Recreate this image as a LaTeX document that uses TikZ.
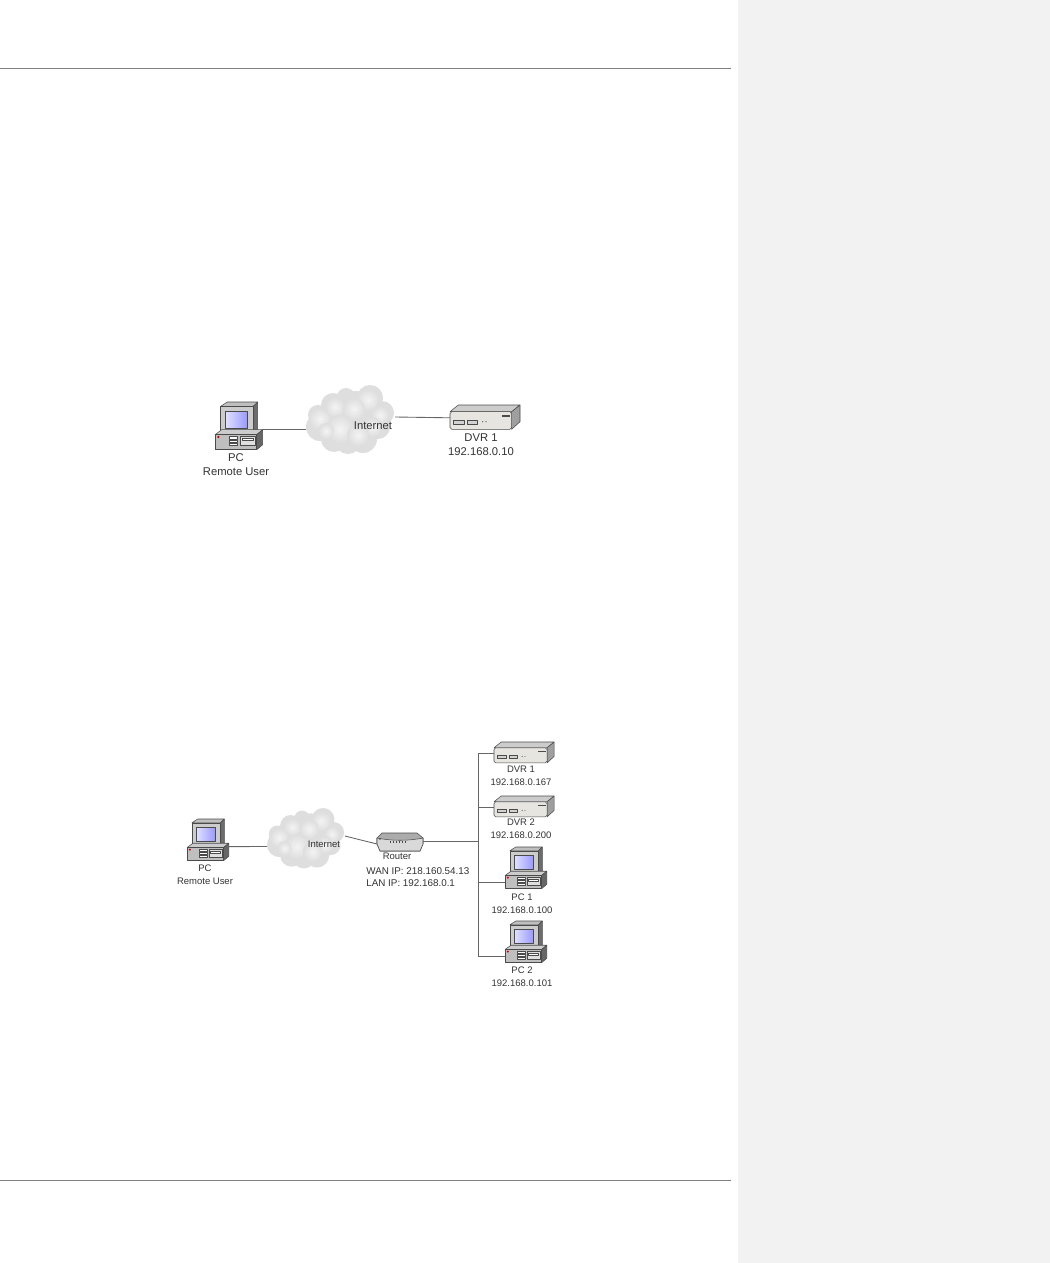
\documentclass[tikz,border=0pt]{standalone}
\usepackage{fontspec}
\setmainfont{Liberation Sans}
\usetikzlibrary{calc}
\definecolor{sidegray}{HTML}{F2F2F2}
\definecolor{rulegray}{HTML}{808080}
\definecolor{wiregray}{HTML}{666666}
\definecolor{inkgray}{HTML}{333333}
\definecolor{edgegray}{HTML}{4A4A4A}
\tikzset{
port/.style={inner sep=0pt, outer sep=0pt, minimum size=0pt},
wire/.style={draw=wiregray, line width=0.5pt},
edge/.style={draw=edgegray, line width=0.3pt, line join=round},
biglabel/.style={inner sep=0pt, align=center, text=inkgray, font=\fontsize{6.4}{7.9}\selectfont},
smalllabel/.style={inner sep=0pt, align=center, text=inkgray, font=\fontsize{5.4}{7.4}\selectfont},
pcbox/.pic={
\path[edge, fill=gray!50] (5.7,4.3) -- (12.3,0) -- (42.7,0) -- (38.3,4.3) -- cycle;
\path[edge, fill=gray!85!black] (38.3,4.3) -- (42.7,0) -- (42.7,27) -- (38.3,31) -- cycle;
\path[edge, fill=gray!40] (5.7,4.3) rectangle (38.3,31);
\path[edge, left color=blue!12!white, right color=blue!40!white] (10.7,9.3) rectangle (32.3,26);
\path[edge, fill=gray!40] (0,32.7) -- (6.7,27.7) -- (47.7,27.7) -- (41.7,32.7) -- cycle;
\path[edge, fill=gray!80!black] (41.7,32.7) -- (47.7,27.7) -- (47.7,42.7) -- (41.7,47.7) -- cycle;
\path[edge, fill=gray!50] (0,32.7) rectangle (41.7,47.7);
\fill[red!80!black] (3.3,35) circle (1.2);
\foreach \y in {34.6,37.8,41} {\path[edge, fill=white] (14.3,\y) rectangle (22.7,\y+2.2);}
\path[edge, fill=gray!25] (25,34.3) rectangle (40,43.7);
\path[edge, fill=white] (27,36.4) rectangle (38,38.6);
\node[port] (-east) at (47.7,27) {};
\node[port] (-rear) at (47.7,31.5) {};
\node[port] (-west) at (0,40) {};
},
dvrbox/.pic={
\path[edge, fill=gray!40] (0,6.7) -- (8.3,0) -- (70,0) -- (61.7,6.7) -- cycle;
\path[edge, fill=gray!75] (61.7,6.7) -- (70,0) -- (70,16.7) -- (61.7,24.3) -- cycle;
\path[edge, fill=yellow!10!gray!25, rounded corners=1] (0,6.7) rectangle (61.7,24.3);
\path[edge, fill=gray!35] (3.3,15.7) rectangle (14,19.3);
\path[edge, fill=gray!35] (17.3,15.7) rectangle (27.3,19.3);
\fill[edgegray] (32.7,16.7) circle (.6) (36,16.7) circle (.6);
\fill[edgegray] (51.7,10) rectangle (60,11.7);
\node[port] (-west) at (0,12.8) {};
\node[port] (-east) at (70,8) {};
},
routerbox/.pic={
\path[edge, fill=gray!65] (0,5) -- (5,0) -- (40,0) -- (46,5) -- (46,11) -- (43,18) -- (3,18) -- (0,11) -- cycle;
\path[edge, fill=gray!30] (0,5) .. controls (14,8) and (32,8) .. (46,5) -- (46,11) -- (43,18) -- (3,18) -- (0,11) -- cycle;
\foreach \x in {13,16,19,22,25,28} {\draw[edge] (\x,7.5) -- (\x,10);}
\fill[edgegray] (3,6) circle (.9);
\node[port] (-west) at (0,11) {};
\node[port] (-east) at (46,8) {};
},
netcloud/.pic={
\foreach \x/\y/\r in {12/30/10,27/20/12,40/12/9,64/13/13,50/20/14,76/28/12,72/42/12,14/42/14,57/54/14,42/56/13,28/54/13,45/36/24,62/36/20,28/36/18} {
\fill[gray!26] (\x,\y) circle (\r);
}
\foreach \x/\y/\r in {14/34/11,29/22/10,62/15/11,48/24/11,74/30/9,66/42/10,34/44/14,52/50/11,20/46/8} {
\shade[inner color=gray!9, outer color=gray!26] (\x,\y) circle (\r);
}
\node[port] (-east) at (89,32) {};
\node[port] (-west) at (0,44) {};
},
}

\begin{document}
\begin{tikzpicture}[x=0.02cm, y=-0.02cm]
\useasboundingbox (0,0) rectangle (1050,1263);
\fill[white] (0,0) rectangle (738,1263);
\fill[sidegray] (738,0) rectangle (1050,1263);

\node[port] (RuleTopL) at (0,68) {};
\node[port] (RuleTopR) at (731,68) {};
\node[port] (RuleBotL) at (0,1180) {};
\node[port] (RuleBotR) at (731,1180) {};
\draw[rulegray, line width=0.5pt] (RuleTopL) to (RuleTopR);
\draw[rulegray, line width=0.5pt] (RuleBotL) to (RuleBotR);

\pic (PC) at (215,402) {pcbox};
\pic (Net) at (306,385) {netcloud};
\pic (DVR) at (450,405) {dvrbox};

\node[biglabel] (PClabel) at (236,465) {PC\\Remote User};
\node[biglabel] (Netlabel) at (373,426) {Internet};
\node[biglabel] (DVRlabel) at (481,445) {DVR 1\\192.168.0.10};

\draw[wire] (PC-east) to (Net-west);
\draw[wire] (Net-east) to (DVR-west);

\pic[scale=.875] (PC') at (187,819) {pcbox};
\pic[scale=.876] (Net') at (267,808) {netcloud};
\pic (Rtr) at (377,833) {routerbox};
\pic[scale=.86] (DVRa) at (494,742) {dvrbox};
\pic[scale=.86] (DVRb) at (494,796) {dvrbox};
\pic[scale=.875] (PCa) at (505,847) {pcbox};
\pic[scale=.875] (PCb) at (505,921) {pcbox};

\node[smalllabel] (PC'label) at (205,874.5) {PC\\Remote User};
\node[smalllabel] (Net'label) at (324,844) {Internet};
\node[smalllabel] (Rtrlabel) at (397,856) {Router};
\node[smalllabel, anchor=west, align=left, font=\fontsize{5.6}{6.9}\selectfont] (Rtrip) at (366,877) {WAN IP: 218.160.54.13\\LAN IP: 192.168.0.1};
\node[smalllabel] (DVRalabel) at (521,775.5) {DVR 1\\192.168.0.167};
\node[smalllabel] (DVRblabel) at (521,828.5) {DVR 2\\192.168.0.200};
\node[smalllabel] (PCalabel) at (522,903.5) {PC 1\\192.168.0.100};
\node[smalllabel] (PCblabel) at (522,976.5) {PC 2\\192.168.0.101};

\node[port] (Bus) at (478,841) {};
\draw[wire] (PC'-rear) to (Net'-west);
\draw[wire] (Net'-east) to (Rtr-west);
\draw[wire] (Rtr-east) to (Bus);
\draw[wire] (Bus) |- (DVRa-west);
\draw[wire] (Bus) |- (DVRb-west);
\draw[wire] (Bus) |- (PCa-west);
\draw[wire] (Bus) |- (PCb-west);
\end{tikzpicture}
\end{document}
